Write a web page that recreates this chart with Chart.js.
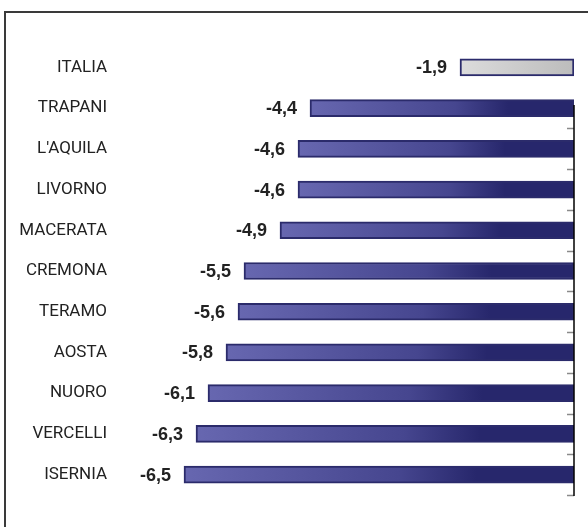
<!DOCTYPE html>
<html>
<head>
<meta charset="utf-8">
<style>
  html, body { margin: 0; padding: 0; background: #fff; }
  #wrap { position: relative; width: 588px; height: 527px; }
</style>
<script src="https://cdn.jsdelivr.net/npm/chart.js@4/dist/chart.umd.min.js"></script>
</head>
<body>
<div id="wrap"><canvas id="chart" width="588" height="527"></canvas></div>
<script>
// Data
const provinces = ['ITALIA', 'TRAPANI', "L'AQUILA", 'LIVORNO', 'MACERATA', 'CREMONA',
  'TERAMO', 'AOSTA', 'NUORO', 'VERCELLI', 'ISERNIA'];
const values = [-1.9, -4.4, -4.6, -4.6, -4.9, -5.5, -5.6, -5.8, -6.1, -6.3, -6.5];
const scaleMin = -7;
const scaleMax = 0;

const colors = {
  barLeft: '#6767b0',
  barMid: '#46468f',
  barRight: '#27276c',
  barBorder: '#2b2b6b',
  totalLeft: '#dcdcdc',
  totalRight: '#bcbcbc',
  text: '#222222',
  axis: '#000000',
  tick: '#8a8a8a',
  frame: '#3a3a3a'
};

// fill each bar with a horizontal gradient spanning the bar itself
function barFill(context) {
  const chart = context.chart;
  const x = chart.scales.x;
  const fallback = context.dataIndex === 0 ? colors.totalRight : colors.barMid;
  if (!x || context.raw === undefined) return fallback;
  const x0 = x.getPixelForValue(context.raw);
  const x1 = x.getPixelForValue(0);
  if (!isFinite(x0) || !isFinite(x1) || x0 === x1) return fallback;
  const g = chart.ctx.createLinearGradient(x0, 0, x1, 0);
  if (context.dataIndex === 0) {
    g.addColorStop(0, colors.totalLeft);
    g.addColorStop(1, colors.totalRight);
  } else {
    g.addColorStop(0, colors.barLeft);
    g.addColorStop(0.55, colors.barMid);
    g.addColorStop(0.75, colors.barRight);
    g.addColorStop(1, colors.barRight);
  }
  return g;
}

// frame, right axis with inner ticks, value labels
const decorations = {
  id: 'decorations',
  afterDraw(chart) {
    const ctx = chart.ctx;
    const x = chart.scales.x;
    const y = chart.scales.y;
    const zero = x.getPixelForValue(0);
    ctx.save();

    // outer frame (left and top only visible)
    ctx.strokeStyle = colors.frame;
    ctx.lineWidth = 2;
    ctx.beginPath();
    ctx.moveTo(5, 527);
    ctx.lineTo(5, 12);
    ctx.lineTo(588, 12);
    ctx.stroke();

    // right axis and tick marks between provinces
    const half = (y.getPixelForValue(1) - y.getPixelForValue(0)) / 2;
    const last = provinces.length - 1;
    ctx.strokeStyle = colors.tick;
    ctx.lineWidth = 1.5;
    for (let i = 1; i <= last; i++) {
      const ty = Math.round(y.getPixelForValue(i) + half) + 0.5;
      ctx.beginPath();
      ctx.moveTo(zero - 7, ty);
      ctx.lineTo(zero, ty);
      ctx.stroke();
    }
    ctx.strokeStyle = colors.axis;
    ctx.lineWidth = 1.5;
    ctx.beginPath();
    ctx.moveTo(zero, y.getPixelForValue(1) - 3);
    ctx.lineTo(zero, y.getPixelForValue(last) + half + 1);
    ctx.stroke();

    // value labels
    ctx.fillStyle = colors.text;
    ctx.font = 'bold 18px "Liberation Sans", Arial, sans-serif';
    ctx.textAlign = 'right';
    ctx.textBaseline = 'middle';
    values.forEach((v, i) => {
      const px = x.getPixelForValue(v) - 13;
      const py = y.getPixelForValue(i) + 1;
      ctx.fillText(v.toFixed(1).replace('.', ','), px, py);
    });
    ctx.restore();
  }
};

new Chart(document.getElementById('chart'), {
  type: 'bar',
  data: {
    labels: provinces,
    datasets: [{
      data: values,
      backgroundColor: barFill,
      borderColor: colors.barBorder,
      borderWidth: 2,
      borderSkipped: false,
      barThickness: 17
    }]
  },
  options: {
    indexAxis: 'y',
    responsive: false,
    animation: false,
    events: [],
    layout: {
      padding: { left: 0, right: 14, top: 47, bottom: 32 }
    },
    plugins: {
      legend: { display: false },
      tooltip: { enabled: false }
    },
    scales: {
      x: {
        display: false,
        min: scaleMin,
        max: scaleMax
      },
      y: {
        position: 'left',
        afterFit: (scale) => {
          scale.width = 154;
          scale.paddingTop = 0;
          scale.paddingBottom = 0;
        },
        grid: { display: false, drawTicks: false },
        border: { display: false },
        ticks: {
          padding: 47,
          color: colors.text,
          font: { family: 'Roboto, "Liberation Sans", sans-serif', size: 17 }
        }
      }
    }
  },
  plugins: [decorations]
});
</script>
</body>
</html>
